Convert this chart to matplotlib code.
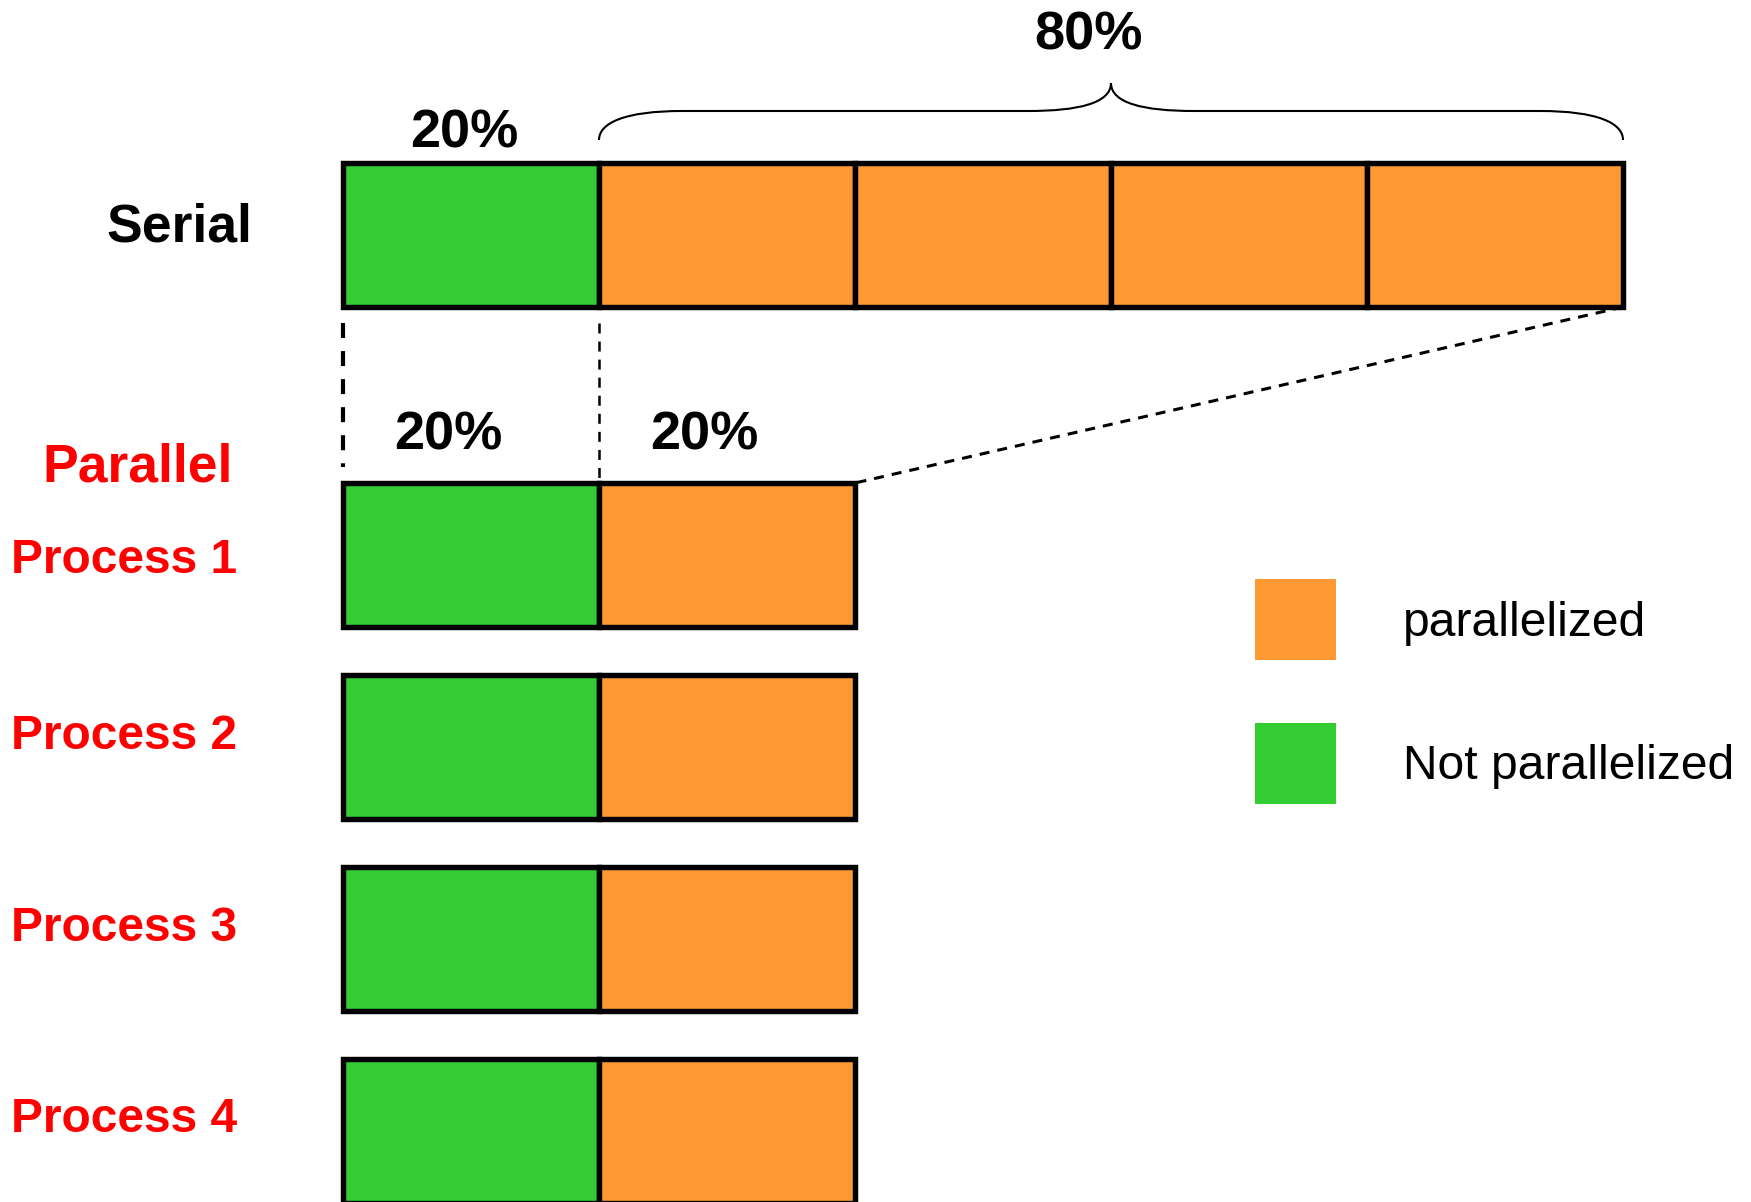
import matplotlib
matplotlib.use("Agg")
import matplotlib.pyplot as plt
from matplotlib.path import Path
from matplotlib.patches import PathPatch, Rectangle
import numpy as np

plt.rcParams['font.family'] = ['Liberation Sans', 'DejaVu Sans']
plt.rcParams['lines.scale_dashes'] = False

# ---------------- data ----------------
serial_parts = [20, 20, 20, 20, 20]
serial_kinds = ['Not parallelized', 'parallelized', 'parallelized',
                'parallelized', 'parallelized']
process_parts = [20, 20]
process_kinds = ['Not parallelized', 'parallelized']
process_names = ['Process 1', 'Process 2', 'Process 3', 'Process 4']
serial_label = 'Serial'
parallel_label = 'Parallel'
serial_pct_labels = ['20%', '80%']
process_pct_labels = ['20%', '20%']
legend_labels = ['parallelized', 'Not parallelized']

# ---------------- style ----------------
colors = {'parallelized': '#FF9933', 'Not parallelized': '#33CC33'}
RED = '#FF0000'
W, H = 1751, 1202
X0_PX, PX_PER_PCT = 343, 12.8

fig = plt.figure(figsize=(W / 100, H / 100), dpi=100)
ax = fig.add_axes([0, 0, 1, 1])
ax.set_xlim(-X0_PX / PX_PER_PCT, (W - X0_PX) / PX_PER_PCT)
ax.set_ylim(H, 0)
ax.axis('off')

bar_h = 144
serial_top = 163
process_tops = [483, 675, 867, 1059]
edge_lw = 3.9

# serial bar
lefts = np.concatenate([[0], np.cumsum(serial_parts)[:-1]])
ax.barh([serial_top + bar_h / 2] * len(serial_parts), serial_parts, left=lefts,
        height=bar_h, color=[colors[k] for k in serial_kinds],
        edgecolor='black', linewidth=edge_lw, zorder=3)

# parallel bars
plefts = np.concatenate([[0], np.cumsum(process_parts)[:-1]])
for top in process_tops:
    ax.barh([top + bar_h / 2] * len(process_parts), process_parts, left=plefts,
            height=bar_h, color=[colors[k] for k in process_kinds],
            edgecolor='black', linewidth=edge_lw, zorder=3)

# dashed guide lines
serial_total = sum(serial_parts)
ser_np = serial_parts[0]
proc_total = sum(process_parts)
ax.plot([0, 0], [323, 467], color='black', lw=3.0, dashes=(10.8, 9.4), zorder=2)
ax.plot([ser_np, ser_np], [323, process_tops[0]], color='black', lw=1.8,
        dashes=(7.2, 5.8), zorder=2)
ax.plot([serial_total, proc_total], [serial_top + bar_h, process_tops[0]],
        color='black', lw=2.2, dashes=(7.2, 5.8), zorder=2)

# brace over the parallelizable part
b0, b1 = ser_np, serial_total
bm = (b0 + b1) / 2
yb, yh, yt = 140, 111, 83
r = 6.5
verts = [(b0, yb), (b0, yh + 12), (b0 + 2, yh), (b0 + r, yh),
         (bm - r, yh),
         (bm - 2.5, yh), (bm, yh - 8), (bm, yt),
         (bm, yh - 8), (bm + 2.5, yh), (bm + r, yh),
         (b1 - r, yh),
         (b1 - 2, yh), (b1, yh + 12), (b1, yb)]
codes = [Path.MOVETO, Path.CURVE4, Path.CURVE4, Path.CURVE4,
         Path.LINETO,
         Path.CURVE4, Path.CURVE4, Path.CURVE4,
         Path.CURVE4, Path.CURVE4, Path.CURVE4,
         Path.LINETO,
         Path.CURVE4, Path.CURVE4, Path.CURVE4]
ax.add_patch(PathPatch(Path(verts, codes), facecolor='none', edgecolor='black',
                       lw=1.5, zorder=2))

# text labels
def px(xp):
    return (xp - X0_PX) / PX_PER_PCT

ax.text(px(179), 241, serial_label, fontsize=38.5, fontweight='bold',
        ha='center', va='baseline', color='black')
ax.text(px(138), 482, parallel_label, fontsize=38.4, fontweight='bold',
        ha='center', va='baseline', color=RED)
for name, base in zip(process_names, [573, 749, 941, 1132]):
    ax.text(px(11), base, name, fontsize=34.5, fontweight='bold',
            ha='left', va='baseline', color=RED)

ax.text(px(464), 147, serial_pct_labels[0], fontsize=39, fontweight='bold',
        ha='center', va='baseline')
ax.text(px(1088), 50, serial_pct_labels[1], fontsize=39, fontweight='bold',
        ha='center', va='baseline')
for lab, cx in zip(process_pct_labels, [448, 704]):
    ax.text(px(cx), 450, lab, fontsize=39, fontweight='bold',
            ha='center', va='baseline')

# legend
for lab, top, base in zip(legend_labels, [579, 723], [636, 779]):
    ax.add_patch(Rectangle((px(1255), top), (1336 - 1255) / PX_PER_PCT, 81,
                           facecolor=colors[lab], edgecolor='none', zorder=3))
    ax.text(px(1403), base, lab, fontsize=34.6, ha='left', va='baseline',
            color='black')

fig.savefig('out.png', dpi=100, facecolor='white')
